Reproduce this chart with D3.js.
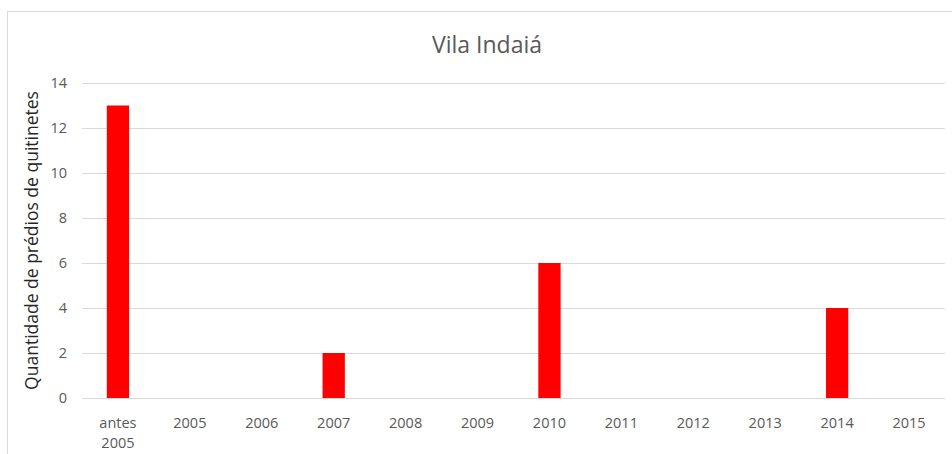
<!DOCTYPE html>
<html>
<head>
<meta charset="utf-8">
<script src="https://cdn.jsdelivr.net/npm/d3@7"></script>
<style>
  body { margin: 0; background: #fff; }
  text { font-family: "Open Sans", "Noto Sans", sans-serif; }
</style>
</head>
<body>
<div id="chart"></div>
<script>
var categories = ["antes 2005", "2005", "2006", "2007", "2008", "2009", "2010", "2011", "2012", "2013", "2014", "2015"];
var values = [13, 0, 0, 2, 0, 0, 6, 0, 0, 0, 4, 0];
var yTicks = [0, 2, 4, 6, 8, 10, 12, 14];

var width = 952, height = 454;
var margin = {top: 83, right: 7, bottom: 56, left: 82};

var svg = d3.select("#chart").append("svg")
    .attr("width", width)
    .attr("height", height);

// chart frame
svg.append("rect")
    .attr("x", 7.5).attr("y", 11.5)
    .attr("width", width).attr("height", height)
    .attr("fill", "none")
    .attr("stroke", "#d9d9d9");

var x = d3.scaleBand()
    .domain(categories)
    .range([margin.left, width - margin.right])
    .paddingInner(0.69)
    .paddingOuter(0.345);

var y = d3.scaleLinear()
    .domain([0, 14])
    .range([height - margin.bottom, margin.top]);

// gridlines
svg.append("g")
    .selectAll("line")
    .data(yTicks)
    .enter().append("line")
    .attr("x1", margin.left)
    .attr("x2", width - margin.right)
    .attr("y1", d => Math.round(y(d)) + 0.5)
    .attr("y2", d => Math.round(y(d)) + 0.5)
    .attr("stroke", "#d9d9d9");

var yAxis = d3.axisLeft(y).tickValues(yTicks).tickSize(0).tickPadding(15);
svg.append("g")
    .attr("transform", `translate(${margin.left},0)`)
    .call(yAxis)
    .call(g => g.select(".domain").remove())
    .selectAll("text")
    .attr("fill", "#595959")
    .style("font-size", "14.5px");

// bars
svg.selectAll("rect.bar")
    .data(categories.map((c, i) => ({key: c, value: values[i]})))
    .enter().append("rect")
    .attr("class", "bar")
    .attr("x", d => x(d.key))
    .attr("width", x.bandwidth())
    .attr("y", d => y(d.value))
    .attr("height", d => y(0) - y(d.value))
    .attr("fill", "#ff0000");

// x labels
var xl = svg.append("g").selectAll("text")
    .data(categories)
    .enter().append("text")
    .attr("x", d => x(d) + x.bandwidth() / 2)
    .attr("y", 428)
    .attr("text-anchor", "middle")
    .attr("fill", "#595959")
    .style("font-size", "14.5px");

xl.each(function(d) {
    var parts = d.split(" ");
    var t = d3.select(this);
    parts.forEach((p, i) => {
        t.append("tspan")
            .attr("x", x(d) + x.bandwidth() / 2)
            .attr("dy", i === 0 ? 0 : 20)
            .text(p);
    });
});

// title
svg.append("text")
    .attr("x", 487)
    .attr("y", 53)
    .attr("text-anchor", "middle")
    .attr("fill", "#595959")
    .style("font-size", "23px")
    .text("Vila Indaiá");

// y title
svg.append("text")
    .attr("transform", `translate(38,${(y(0) + y(14)) / 2}) rotate(-90)`)
    .attr("text-anchor", "middle")
    .attr("fill", "#262626")
    .style("font-size", "17.5px")
    .style("font-weight", "500")
    .text("Quantidade de prédios de quitinetes");
</script>
</body>
</html>
